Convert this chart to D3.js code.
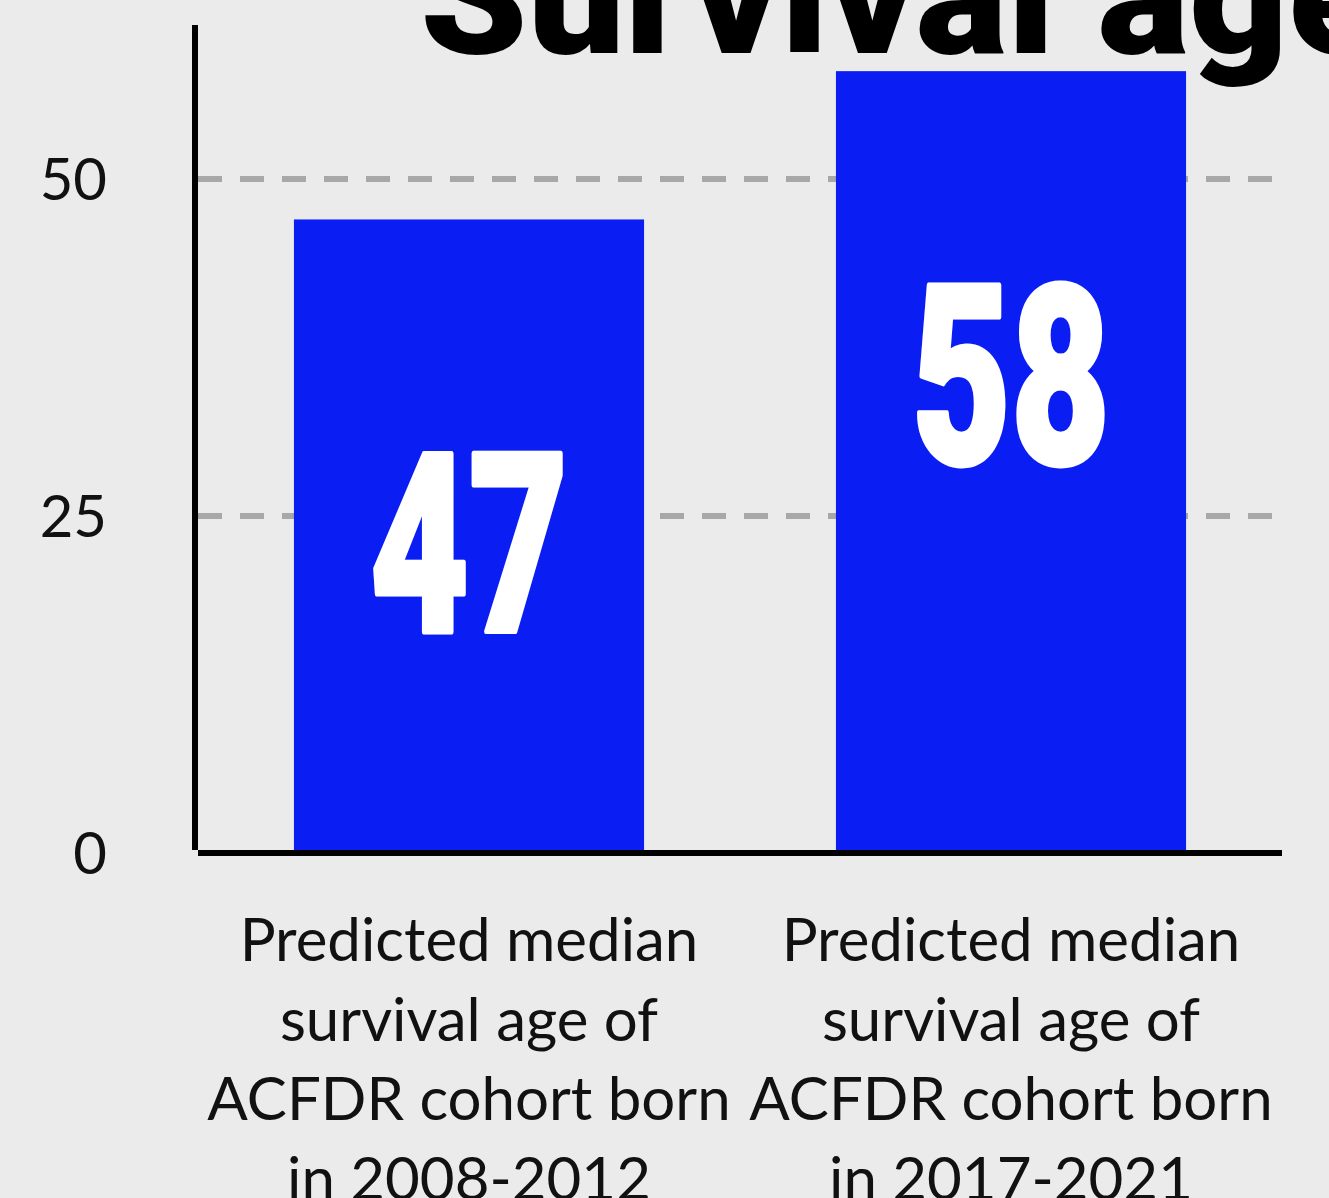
<!DOCTYPE html>
<html>
<head>
<meta charset="utf-8">
<script src="https://cdn.jsdelivr.net/npm/d3@7"></script>
<style>
    html, body { margin: 0; padding: 0; background: #ebebeb; overflow: hidden; }
    svg { display: block; }
    .tick-label, .cat-label { font-family: Lato, "Open Sans", sans-serif; fill: #111; }
    .value-label { font-family: Roboto, "Liberation Sans", sans-serif; font-weight: 900; fill: #fff; }
    .title { font-family: Roboto, "Liberation Sans", sans-serif; font-weight: 900; fill: #000; }
</style>
</head>
<body>
<svg class="chart"></svg>
<script>
// data
var categories = ["2008-2012", "2017-2021"];
var values = [47, 58];
var catLines = [
    ["Predicted median", "survival age of", "ACFDR cohort born", "in 2008-2012"],
    ["Predicted median", "survival age of", "ACFDR cohort born", "in 2017-2021"]
];
var yTicks = [0, 25, 50];
var labelAt = [23.1, 35.5]; // where the big numbers sit, in axis units
var titleText = "Survival age";

var width = 1329;
var height = 1198;

var chart = d3.select(".chart")
    .attr("width", width)
    .attr("height", height);

var x = d3.scaleBand()
    .domain(categories)
    .range([198, 1282])
    .paddingInner(0.354)
    .paddingOuter(0.177);

var y = d3.scaleLinear()
    .domain([0, 50])
    .range([853, 179]);

// title, cut off by the top edge
chart.append("text")
    .attr("class", "title")
    .attr("x", 420)
    .attr("y", 53)
    .attr("font-size", 165)
    .attr("textLength", 962)
    .attr("lengthAdjust", "spacingAndGlyphs")
    .text(titleText);

// dashed gridlines
chart.selectAll("line.grid")
    .data(yTicks.filter(function(d) { return d > 0; }))
    .enter()
    .append("line")
    .attr("class", "grid")
    .attr("x1", 198)
    .attr("x2", 1278)
    .attr("y1", function(d) { return y(d); })
    .attr("y2", function(d) { return y(d); })
    .attr("stroke", "#a8a8a8")
    .attr("stroke-width", 6)
    .attr("stroke-dasharray", "24 18");

// bars
chart.selectAll("rect.bar")
    .data(values)
    .enter()
    .append("rect")
    .attr("class", "bar")
    .attr("x", function(d, i) { return x(categories[i]); })
    .attr("width", x.bandwidth())
    .attr("y", function(d) { return y(d); })
    .attr("height", function(d) { return y(0) - y(d); })
    .attr("fill", "#0a1ef4");

// big numbers inside the bars
chart.selectAll("text.value-label")
    .data(values)
    .enter()
    .append("text")
    .attr("class", "value-label")
    .attr("x", function(d, i) { return x(categories[i]) + x.bandwidth() / 2; })
    .attr("y", function(d, i) { return y(labelAt[i]); })
    .attr("dy", "0.36em")
    .attr("text-anchor", "middle")
    .attr("font-size", 250)
    .attr("textLength", 198)
    .attr("lengthAdjust", "spacingAndGlyphs")
    .attr("stroke", "#fff")
    .attr("stroke-width", 5)
    .attr("stroke-linejoin", "round")
    .text(function(d) { return d; });

// axes
chart.append("line")
    .attr("x1", 195)
    .attr("x2", 195)
    .attr("y1", 25)
    .attr("y2", 850)
    .attr("stroke", "#000")
    .attr("stroke-width", 6);

chart.append("line")
    .attr("x1", 198)
    .attr("x2", 1282)
    .attr("y1", y(0))
    .attr("y2", y(0))
    .attr("stroke", "#000")
    .attr("stroke-width", 6);

chart.selectAll("text.tick-label")
    .data(yTicks)
    .enter()
    .append("text")
    .attr("class", "tick-label")
    .attr("x", 107)
    .attr("y", function(d) { return y(d); })
    .attr("dy", "0.36em")
    .attr("text-anchor", "end")
    .attr("font-size", 58)
    .text(function(d) { return d; });

// category labels, four lines each
var cat = chart.selectAll("text.cat-label")
    .data(categories)
    .enter()
    .append("text")
    .attr("class", "cat-label")
    .attr("text-anchor", "middle")
    .attr("font-size", 60)
    .attr("y", 961);

cat.selectAll("tspan")
    .data(function(d, i) { return catLines[i]; })
    .enter()
    .append("tspan")
    .attr("x", function() { return x(d3.select(this.parentNode).datum()) + x.bandwidth() / 2; })
    .attr("dy", function(d, i) { return i === 0 ? 0 : 79.5; })
    .text(function(d) { return d; });
</script>
</body>
</html>
